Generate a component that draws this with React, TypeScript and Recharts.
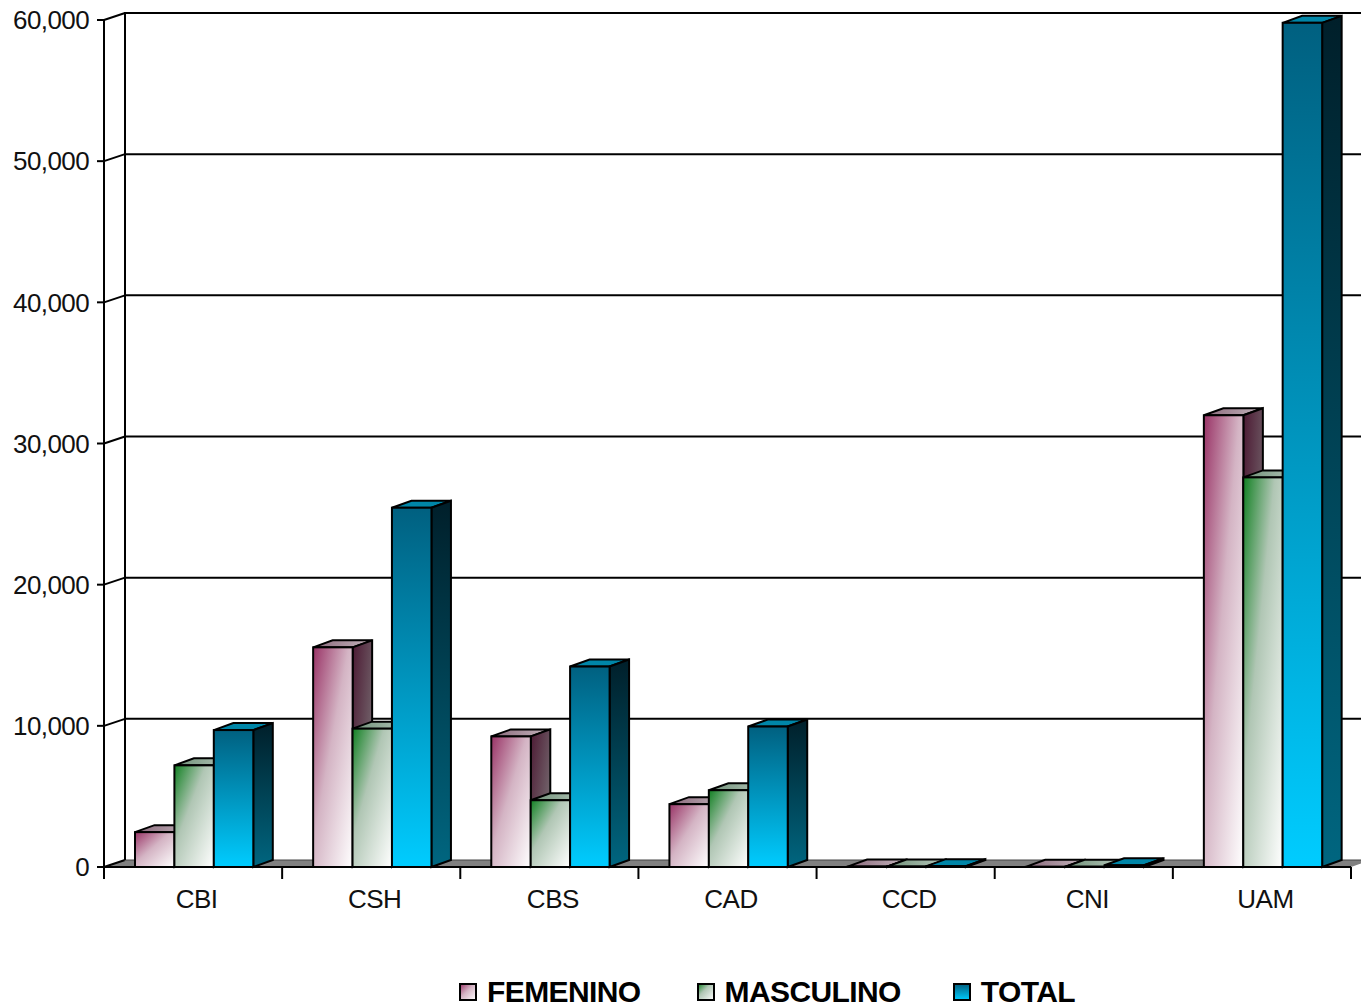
import React from "react";
import { BarChart, Bar, XAxis, YAxis, CartesianGrid, Legend } from "recharts";

const categories = ["CBI", "CSH", "CBS", "CAD", "CCD", "CNI", "UAM"];
const femenino = [2470, 15560, 9250, 4450, 30, 10, 32000];
const masculino = [7200, 9800, 4730, 5440, 30, 20, 27600];
const total = [9700, 25450, 14200, 9950, 60, 120, 59800];
const yTicks = [0, 10000, 20000, 30000, 40000, 50000, 60000];

const data = categories.map((c, i) => ({
  name: c,
  FEMENINO: femenino[i],
  MASCULINO: masculino[i],
  TOTAL: total[i],
}));

const DX = 20;
const DY = 7;
const FONT = '"Liberation Sans", Arial, sans-serif';

const make3D = (id: string, k: number) => (p: any) => {
  const { x: x0, y, width, height: h } = p;
  if (x0 == null) return null;
  const x = x0 + 1 + k * 0.4;
  const w = width + 0.5;
  const d = 19.5;
  const e = 7;
  return (
    <g stroke="#000" strokeWidth={2} strokeLinejoin="miter">
      <path
        d={`M${x},${y} L${x + d},${y - e} L${x + w + d},${y - e} L${x + w},${y} Z`}
        fill={`url(#${id}Top)`}
      />
      <path
        d={`M${x + w},${y} L${x + w + d},${y - e} L${x + w + d},${y + h - e} L${x + w},${y + h} Z`}
        fill={`url(#${id}Side)`}
      />
      <rect x={x} y={y} width={w} height={h} fill={`url(#${id}Front)`} />
    </g>
  );
};

const gridLine = (p: any) => {
  const { x1, x2, y1, y, height, index } = p;
  const isTop = Math.abs(y1 - y) < 0.5;
  const isBottom = Math.abs(y1 - (y + height)) < 0.5;
  return (
    <g key={`g-${index}`}>
      {isBottom && (
        <polygon
          points={`${x1},${y1} ${x1 + DX},${y1 - DY} ${x2 + 20},${y1 - DY} ${x2},${y1}`}
          fill="#808080"
          stroke="none"
        />
      )}
      {isTop && (
        <line x1={x1 + DX + 1} y1={y - DY} x2={x1 + DX + 1} y2={y + height - DY} stroke="#000" strokeWidth={2} />
      )}
      <line x1={x1} y1={y1} x2={x1 + DX + 1} y2={y1 - DY} stroke="#000" strokeWidth={2} />
      <line
        x1={x1 + DX}
        y1={y1 - DY}
        x2={x2 + 10}
        y2={y1 - DY}
        stroke={isBottom ? "#444" : "#000"}
        strokeWidth={isBottom ? 1 : 2}
      />
    </g>
  );
};

const XTick = (p: any) => {
  const { x, y, payload, index, visibleTicksCount, width } = p;
  const half = width / visibleTicksCount / 2;
  const axisY = y - 8;
  return (
    <g>
      <line x1={x - half} y1={axisY} x2={x - half} y2={axisY + 12} stroke="#000" strokeWidth={2} />
      {index === visibleTicksCount - 1 && (
        <line x1={x + half} y1={axisY} x2={x + half} y2={axisY + 12} stroke="#000" strokeWidth={2} />
      )}
      <text
        x={x + 3.5}
        y={axisY + 41}
        textAnchor="middle"
        fontFamily={FONT}
        fontSize={26}
        letterSpacing={-0.5}
        fill="#111"
      >
        {payload.value}
      </text>
    </g>
  );
};

const legendIds: Record<string, string> = { FEMENINO: "fem", MASCULINO: "mas", TOTAL: "tot" };
const legendGaps = [0, 56, 52];

const LegendContent = (p: any) => (
  <div style={{ display: "flex", alignItems: "center", height: 30, paddingLeft: 459, fontFamily: FONT }}>
    {(p.payload || []).map((it: any, i: number) => (
      <div key={it.value} style={{ display: "flex", alignItems: "center", marginLeft: legendGaps[i] }}>
        <svg width={18} height={18} style={{ display: "block", marginRight: 10 }}>
          <rect x={1} y={1} width={16} height={16} fill={`url(#${legendIds[it.value]}Front)`} stroke="#000" strokeWidth={2} />
        </svg>
        <span style={{ fontWeight: 700, fontSize: 30, letterSpacing: -0.6, color: "#000", lineHeight: "30px" }}>{it.value}</span>
      </div>
    ))}
  </div>
);

export default function App() {
  return (
    <div style={{ position: "absolute", left: 0, top: 0, width: 1361, height: 1007, overflow: "hidden", background: "#fff" }}>
      <BarChart
        width={1361}
        height={1007}
        data={data}
        margin={{ top: 20, right: 10, left: 0, bottom: 60 }}
        barCategoryGap={30}
        barGap={0}
      >
        <defs>
          <linearGradient id="femFront" x1="0" y1="0" x2="1" y2="1">
            <stop offset="0" stopColor="#993366" />
            <stop offset="0.45" stopColor="#d4b4c4" />
            <stop offset="1" stopColor="#ffffff" />
          </linearGradient>
          <linearGradient id="femSide" x1="0" y1="0" x2="1" y2="1">
            <stop offset="0" stopColor="#4c1933" />
            <stop offset="1" stopColor="#808080" />
          </linearGradient>
          <linearGradient id="femTop" x1="0" y1="0" x2="1" y2="0">
            <stop offset="0" stopColor="#8a6a7c" />
            <stop offset="1" stopColor="#c4b4bc" />
          </linearGradient>
          <linearGradient id="masFront" x1="0" y1="0" x2="1" y2="1">
            <stop offset="0" stopColor="#118022" />
            <stop offset="0.4" stopColor="#b0c6b4" />
            <stop offset="1" stopColor="#ffffff" />
          </linearGradient>
          <linearGradient id="masSide" x1="0" y1="0" x2="1" y2="1">
            <stop offset="0" stopColor="#084011" />
            <stop offset="1" stopColor="#808080" />
          </linearGradient>
          <linearGradient id="masTop" x1="0" y1="0" x2="1" y2="0">
            <stop offset="0" stopColor="#6f9078" />
            <stop offset="1" stopColor="#b8c8bc" />
          </linearGradient>
          <linearGradient id="totFront" x1="0" y1="0" x2="0" y2="1">
            <stop offset="0" stopColor="#006080" />
            <stop offset="1" stopColor="#00ccff" />
          </linearGradient>
          <linearGradient id="totSide" x1="0" y1="0" x2="0" y2="1">
            <stop offset="0" stopColor="#001f2a" />
            <stop offset="1" stopColor="#006680" />
          </linearGradient>
          <linearGradient id="totTop" x1="0" y1="0" x2="1" y2="0">
            <stop offset="0" stopColor="#0086a8" />
            <stop offset="1" stopColor="#0086a8" />
          </linearGradient>
        </defs>
        <CartesianGrid vertical={false} horizontal={gridLine} />
        <XAxis
          dataKey="name"
          height={50}
          interval={0}
          tickLine={false}
          axisLine={{ stroke: "#000", strokeWidth: 2 }}
          tick={XTick}
        />
        <YAxis
          width={104}
          domain={[0, 60000]}
          ticks={yTicks}
          interval={0}
          tickFormatter={(v: number) => v.toLocaleString("en-US")}
          tickSize={7}
          tickMargin={8}
          tickLine={{ stroke: "#000", strokeWidth: 2 }}
          axisLine={{ stroke: "#000", strokeWidth: 2 }}
          tick={{ fontFamily: FONT, fontSize: 26, letterSpacing: -0.6, fill: "#111" }}
        />
        <Legend content={LegendContent} verticalAlign="bottom" wrapperStyle={{ left: 0, bottom: 0, width: 1361, height: 30 }} />
        <Bar dataKey="FEMENINO" fill="#993366" isAnimationActive={false} shape={make3D("fem", 0)} />
        <Bar dataKey="MASCULINO" fill="#118022" isAnimationActive={false} shape={make3D("mas", 1)} />
        <Bar dataKey="TOTAL" fill="#00a0d0" isAnimationActive={false} shape={make3D("tot", 2)} />
      </BarChart>
    </div>
  );
}
